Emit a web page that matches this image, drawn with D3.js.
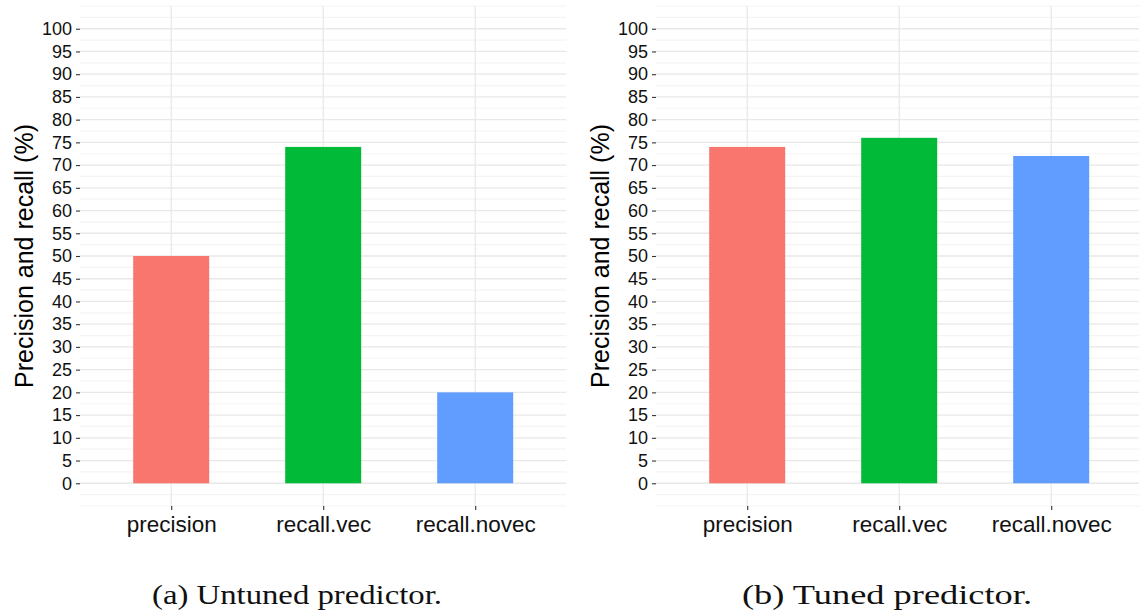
<!DOCTYPE html>
<html>
<head>
<meta charset="utf-8">
<script src="https://cdn.jsdelivr.net/npm/d3@7"></script>
<style>
  body { margin: 0; background: #fff; }
  svg { display: block; }
</style>
</head>
<body>
<svg id="chart" width="1139" height="615"></svg>
<script>
// data
const categories = ['precision', 'recall.vec', 'recall.novec'];
const untunedValues = [50, 74, 20];
const tunedValues = [74, 76, 72];
const barColors = ['#F8766D', '#00BA38', '#619CFF'];
const yTicks = [0, 5, 10, 15, 20, 25, 30, 35, 40, 45, 50, 55, 60, 65, 70, 75, 80, 85, 90, 95, 100];
const yMinor = [-5, -2.5, 2.5, 7.5, 12.5, 17.5, 22.5, 27.5, 32.5, 37.5, 42.5, 47.5, 52.5, 57.5,
  62.5, 67.5, 72.5, 77.5, 82.5, 87.5, 92.5, 97.5, 102.5, 105];
const yTitle = 'Precision and recall (%)';
const captions = ['(a) Untuned predictor.', '(b) Tuned predictor.'];

const svg = d3.select('#chart');

const plotTop = 6, plotBottom = 506, plotWidth = 486.4;

function drawPanel(left, values, caption, captionX) {
  const g = svg.append('g');

  const y = d3.scaleLinear().domain([-5, 105]).range([plotBottom, plotTop]);
  const x = d3.scalePoint().domain(categories).range([left, left + plotWidth]).padding(0.6);
  const barW = x.step() * 0.5;

  // minor grid
  g.append('g').selectAll('line').data(yMinor).join('line')
    .attr('x1', left).attr('x2', left + plotWidth)
    .attr('y1', d => y(d)).attr('y2', d => y(d))
    .attr('stroke', '#f4f4f4').attr('stroke-width', 1.2);

  // major grid
  g.append('g').selectAll('line').data(yTicks).join('line')
    .attr('x1', left).attr('x2', left + plotWidth)
    .attr('y1', d => y(d)).attr('y2', d => y(d))
    .attr('stroke', '#e8e8e8').attr('stroke-width', 1.3);

  g.append('g').selectAll('line').data(categories).join('line')
    .attr('x1', d => x(d)).attr('x2', d => x(d))
    .attr('y1', plotTop).attr('y2', plotBottom)
    .attr('stroke', '#e8e8e8').attr('stroke-width', 1.3);

  // bars
  g.append('g').selectAll('rect').data(values).join('rect')
    .attr('x', (d, i) => x(categories[i]) - barW / 2)
    .attr('width', barW)
    .attr('y', d => y(d))
    .attr('height', d => y(0) - y(d))
    .attr('fill', (d, i) => barColors[i]);

  // y axis
  const yAxis = g.append('g')
    .attr('transform', `translate(${left},0)`)
    .call(d3.axisLeft(y).tickValues(yTicks).tickSize(4).tickPadding(4));
  yAxis.select('.domain').remove();
  yAxis.selectAll('.tick line').attr('stroke', '#333').attr('stroke-width', 1.1);
  yAxis.selectAll('.tick text')
    .attr('fill', '#111')
    .style('font-family', '"Liberation Sans", Arial, sans-serif')
    .style('font-size', '18px');

  // x axis
  const xAxis = g.append('g')
    .attr('transform', `translate(0,${plotBottom})`)
    .call(d3.axisBottom(x).tickSize(4).tickPadding(6));
  xAxis.select('.domain').remove();
  xAxis.selectAll('.tick line').attr('stroke', '#333').attr('stroke-width', 1.1);
  xAxis.selectAll('.tick text')
    .attr('fill', '#111')
    .attr('dy', null)
    .attr('y', 26)
    .style('font-family', '"Liberation Sans", Arial, sans-serif')
    .style('font-size', '22.5px');

  // y title
  g.append('text')
    .attr('transform', `translate(${left - 47},${(plotTop + plotBottom) / 2}) rotate(-90)`)
    .attr('text-anchor', 'middle')
    .attr('fill', '#000')
    .style('font-family', '"Liberation Sans", Arial, sans-serif')
    .style('font-size', '25px')
    .text(yTitle);

  // caption
  g.append('text')
    .attr('x', captionX)
    .attr('y', 604)
    .attr('text-anchor', 'middle')
    .attr('fill', '#111')
    .attr('textLength', 290)
    .attr('lengthAdjust', 'spacingAndGlyphs')
    .style('font-family', '"Liberation Serif", "Times New Roman", serif')
    .style('font-size', '27px')
    .text(caption);
}

drawPanel(80, untunedValues, captions[0], 297);
drawPanel(656, tunedValues, captions[1], 887);
</script>
</body>
</html>
